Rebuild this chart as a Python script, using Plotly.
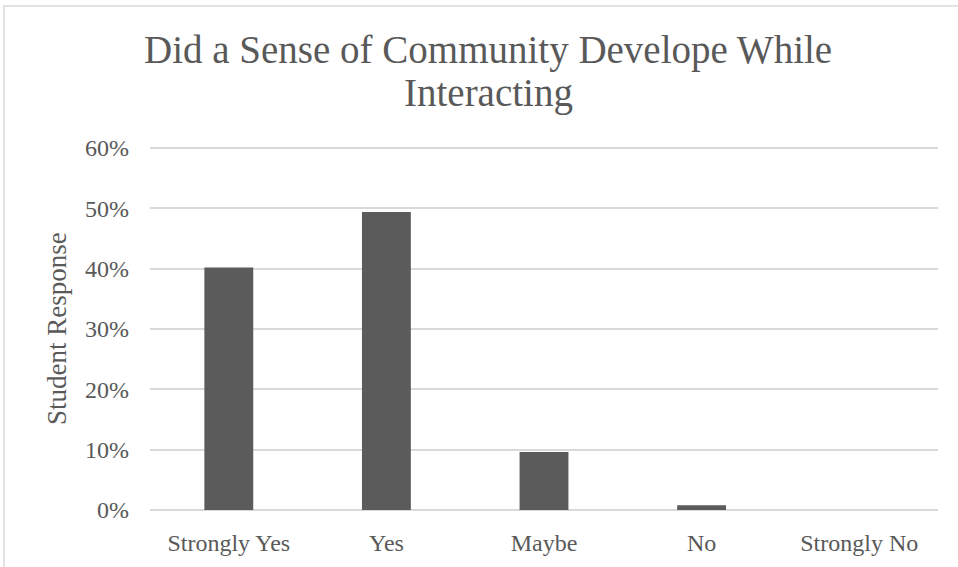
import plotly.graph_objects as go

categories = ["Strongly Yes", "Yes", "Maybe", "No", "Strongly No"]
responses = [0.402, 0.494, 0.096, 0.008, 0.0]
y_ticks = [0, 0.1, 0.2, 0.3, 0.4, 0.5, 0.6]
title_lines = ["Did a Sense of Community Develope While", "Interacting"]
y_title = "Student Response"

W, H = 958, 567
Y_MAX = 0.605
L, R, B = 150, 20, 57
ph = round(362 * Y_MAX / 0.6)
T = H - B - ph
pw = W - L - R

font_family = "Liberation Serif, DejaVu Serif, serif"
text_color = "#595959"


def px_x(px):
    return (px - L) / pw


def px_y(py):
    return 1 - (py - T) / ph


fig = go.Figure(
    go.Bar(
        x=categories,
        y=responses,
        marker=dict(color="#5b5b5b", line=dict(width=0)),
        hoverinfo="x+y",
    )
)

# light chart-area frame running off the right/bottom edges
fig.add_shape(
    type="rect", xref="paper", yref="paper",
    x0=px_x(4), x1=px_x(W + 10),
    y0=px_y(H + 10), y1=px_y(6),
    line=dict(color="#d9d9d9", width=1.5), fillcolor="rgba(0,0,0,0)",
    layer="below",
)

# two-line chart title
for line, cy in zip(title_lines, [50, 93]):
    fig.add_annotation(
        text=line, xref="paper", yref="paper",
        x=px_x(488), y=px_y(cy), xanchor="center", yanchor="middle",
        showarrow=False,
        font=dict(size=39, color=text_color, family=font_family),
    )

# rotated value-axis title
fig.add_annotation(
    text=y_title, xref="paper", yref="paper",
    x=px_x(57), y=px_y(329), xanchor="center", yanchor="middle",
    textangle=-90, showarrow=False,
    font=dict(size=27, color=text_color, family=font_family),
)

fig.update_layout(
    width=W, height=H,
    margin=dict(l=L, r=R, t=T, b=B),
    paper_bgcolor="white", plot_bgcolor="white",
    bargap=0.69,
    showlegend=False,
    font=dict(family=font_family, color=text_color, size=24),
    xaxis=dict(
        showgrid=False, showline=False, zeroline=False, ticks="",
        tickfont=dict(size=24), ticklabelstandoff=16,
    ),
    yaxis=dict(
        range=[0, Y_MAX],
        tickvals=y_ticks,
        tickformat=".0%",
        showgrid=True, gridcolor="#d9d9d9", gridwidth=1.5,
        zeroline=True, zerolinecolor="#d9d9d9", zerolinewidth=1.5,
        showline=False, ticks="",
        tickfont=dict(size=24),
        ticklabelstandoff=20,
    ),
)

fig.write_html("out.html")
